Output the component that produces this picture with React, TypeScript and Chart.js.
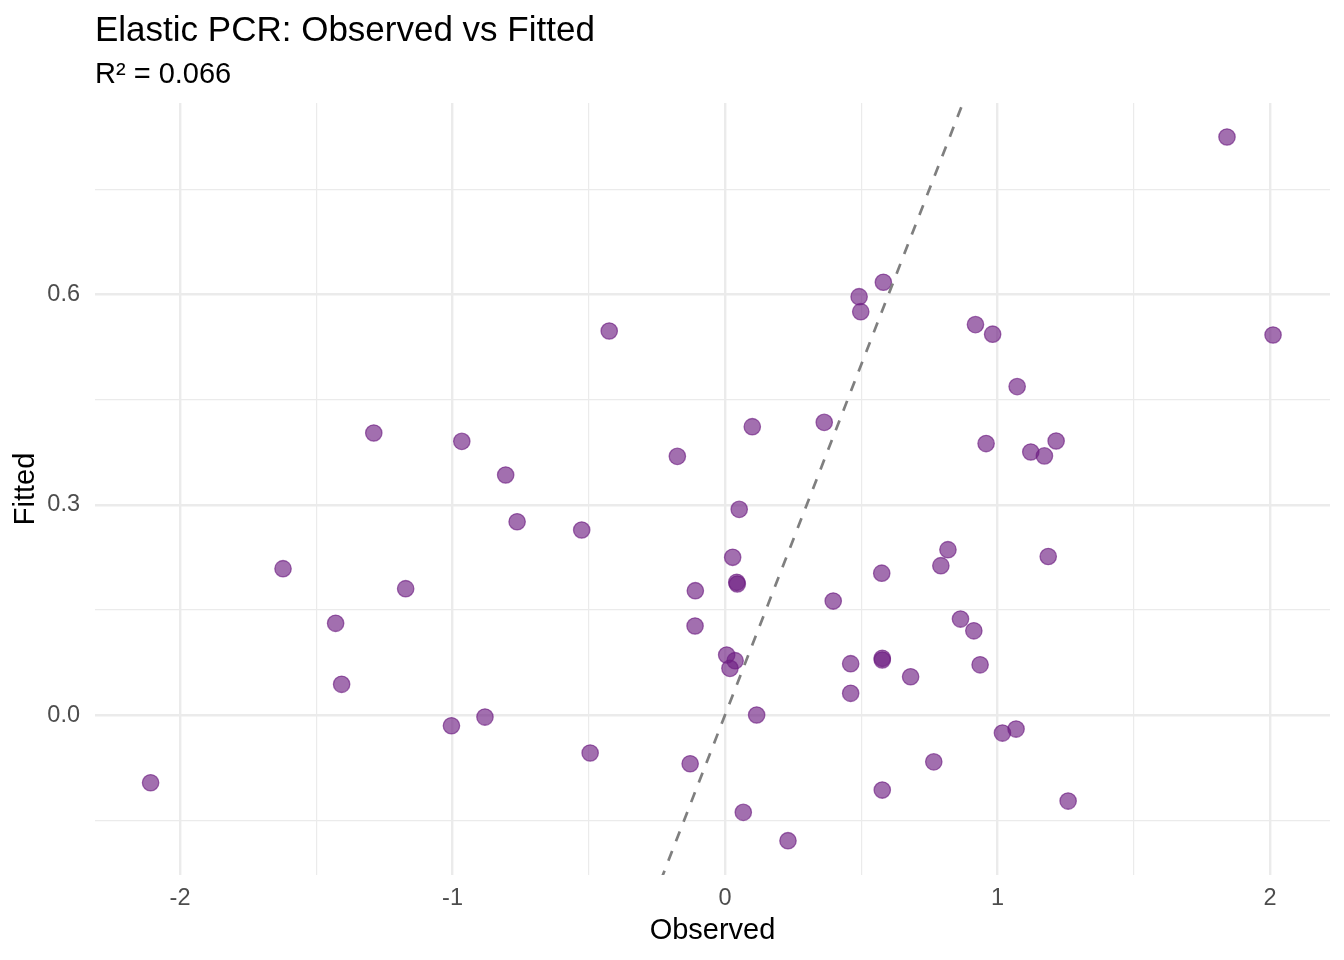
import { useEffect, useRef } from "react";
import { Chart, registerables } from "chart.js";

Chart.register(...registerables);

// ---- data ----
const observed = [
  -2.108, -1.622, -1.429, -1.407, -1.289, -1.172, -1.004, -0.966, -0.881, -0.805,
  -0.763, -0.526, -0.495, -0.425, -0.175, -0.128, -0.109, -0.110, 0.006, 0.037,
  0.018, 0.028, 0.043, 0.045, 0.052, 0.067, 0.100, 0.116, 0.231, 0.364,
  0.397, 0.461, 0.461, 0.492, 0.498, 0.575, 0.577, 0.577, 0.577, 0.581,
  0.681, 0.766, 0.792, 0.818, 0.864, 0.913, 0.919, 0.936, 0.958, 0.982,
  1.018, 1.068, 1.072, 1.122, 1.172, 1.186, 1.215, 1.259, 1.842, 2.011,
];
const fitted = [
  -0.0966, 0.2087, 0.1308, 0.0438, 0.4023, 0.1802, -0.0153, 0.3904, -0.0029, 0.3424,
  0.2757, 0.2639, -0.0542, 0.5478, 0.369, -0.0695, 0.1773, 0.127, 0.0856, 0.0775,
  0.0666, 0.225, 0.1893, 0.1869, 0.2934, -0.1388, 0.4113, 0.0, -0.1793, 0.4175,
  0.1626, 0.0732, 0.031, 0.5967, 0.5753, 0.2023, 0.0809, 0.0785, -0.107, 0.6173,
  0.0546, -0.0668, 0.213, 0.2358, 0.1369, 0.1201, 0.5569, 0.0716, 0.3872, 0.5432,
  -0.0257, -0.02, 0.4685, 0.3752, 0.3696, 0.2261, 0.3909, -0.1227, 0.8245, 0.5421,
];
const xGridValues = [-2, -1.5, -1, -0.5, 0, 0.5, 1, 1.5, 2];
const xLabelValues = [-2, -1, 0, 1, 2];
const yGridValues = [-0.15, 0, 0.15, 0.3, 0.45, 0.6, 0.75];
const yLabelValues = [0, 0.3, 0.6];
const xLimits = [-2.312, 2.22];
const yLimits = [-0.2282, 0.873];
const refLineX = [-3, 3]; // identity line y = x
const titleText = "Elastic PCR: Observed vs Fitted";
const subtitleText = "R² = 0.066";
const xTitle = "Observed";
const yTitle = "Fitted";

const FONT = '"Liberation Sans", Arial, Helvetica, sans-serif';
const isIn = (arr: number[], v: number) => arr.some((a) => Math.abs(a - v) < 1e-9);

const titlePlugin = {
  id: "ggTitle",
  afterDraw(chart: any) {
    const { ctx, chartArea } = chart;
    ctx.save();
    ctx.fillStyle = "#000000";
    ctx.textAlign = "left";
    ctx.textBaseline = "alphabetic";
    ctx.font = `35px ${FONT}`;
    ctx.fillText(titleText, chartArea.left, 41);
    ctx.font = `29px ${FONT}`;
    ctx.fillText(subtitleText, chartArea.left, 82.5);
    ctx.restore();
  },
};

export default function App() {
  const canvasRef = useRef<HTMLCanvasElement | null>(null);

  useEffect(() => {
    if (!canvasRef.current) return;
    const points = observed.map((x, i) => ({ x, y: fitted[i] }));
    const line = refLineX.map((v) => ({ x: v, y: v }));
    const gridWidth = (ctx: any, labeled: number[]) =>
      ctx.tick && isIn(labeled, ctx.tick.value) ? 2.4 : 1.2;

    const chart = new Chart(canvasRef.current, {
      type: "scatter",
      data: {
        datasets: [
          {
            label: "identity",
            data: line,
            showLine: true,
            pointRadius: 0,
            borderColor: "#7F7F7F",
            borderWidth: 2.7,
            borderDash: [10.5, 10.5],
            fill: false,
            order: 0,
          } as any,
          {
            label: "points",
            data: points,
            pointRadius: 8.2,
            pointHoverRadius: 8.2,
            backgroundColor: "rgba(110,30,130,0.64)",
            borderColor: "rgba(110,30,130,0.64)",
            borderWidth: 1.3,
            order: 1,
          },
        ],
      },
      options: {
        animation: false,
        responsive: true,
        maintainAspectRatio: false,
        layout: { padding: { top: 103, right: 14, bottom: 0, left: 0 } },
        plugins: {
          legend: { display: false },
          tooltip: { enabled: false },
          title: { display: false },
        },
        scales: {
          x: {
            type: "linear",
            min: xLimits[0],
            max: xLimits[1],
            afterBuildTicks: (scale: any) => {
              scale.ticks = xGridValues.map((v) => ({ value: v }));
            },
            afterFit: (scale: any) => {
              scale.height = 85;
            },
            border: { display: false },
            grid: {
              color: "#EBEBEB",
              lineWidth: (ctx: any) => gridWidth(ctx, xLabelValues),
              drawTicks: false,
            },
            ticks: {
              autoSkip: false,
              maxRotation: 0,
              padding: 9,
              color: "#4D4D4D",
              font: { family: FONT, size: 23.5 },
              callback: (value: any) => (isIn(xLabelValues, Number(value)) ? String(Number(value)) : ""),
            },
            title: {
              display: true,
              text: xTitle,
              color: "#000000",
              font: { family: FONT, size: 29 },
              padding: { top: 0, bottom: 11.4 },
            },
          },
          y: {
            type: "linear",
            min: yLimits[0],
            max: yLimits[1],
            afterBuildTicks: (scale: any) => {
              scale.ticks = yGridValues.map((v) => ({ value: v }));
            },
            afterFit: (scale: any) => {
              scale.width = 95;
            },
            border: { display: false },
            grid: {
              color: "#EBEBEB",
              lineWidth: (ctx: any) => gridWidth(ctx, yLabelValues),
              drawTicks: false,
            },
            ticks: {
              autoSkip: false,
              padding: 15,
              color: "#4D4D4D",
              font: { family: FONT, size: 23.5 },
              callback: (value: any) => (isIn(yLabelValues, Number(value)) ? Number(value).toFixed(1) : ""),
            },
            title: {
              display: true,
              text: yTitle,
              color: "#000000",
              font: { family: FONT, size: 29 },
              padding: { top: 8.4, bottom: 0 },
            },
          },
        },
      },
      plugins: [titlePlugin],
    });
    return () => chart.destroy();
  }, []);

  return (
    <div style={{ position: "absolute", left: 0, top: 0, width: 1344, height: 960, background: "#FFFFFF" }}>
      <canvas ref={canvasRef} />
    </div>
  );
}
